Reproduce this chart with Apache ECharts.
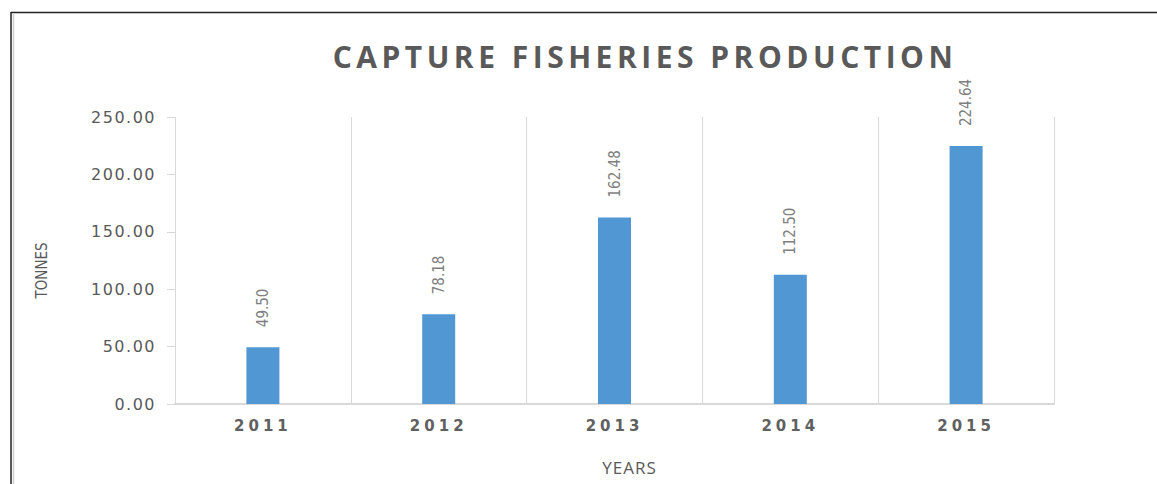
<!DOCTYPE html>
<html>
<head>
<meta charset="utf-8">
<script src="https://cdn.jsdelivr.net/npm/echarts@6/dist/echarts.min.js"></script>
<style>
html,body{margin:0;padding:0;background:#fff;}
#chart{width:1157px;height:484px;}
</style>
</head>
<body>
<div id="chart"></div>
<script>
const titleText = 'CAPTURE FISHERIES PRODUCTION';
const categories = ['2011', '2012', '2013', '2014', '2015'];
const production = [49.50, 78.18, 162.48, 112.50, 224.64];
const yAxisName = 'TONNES';
const xAxisName = 'YEARS';

const chart = echarts.init(document.getElementById('chart'), null, {renderer: 'svg'});
const narrow = '"Liberation Sans Narrow", "DejaVu Sans Condensed", sans-serif';
chart.setOption({
  animation: false,
  backgroundColor: '#fff',
  title: {
    text: titleText,
    left: 640,
    top: 36,
    textAlign: 'center',
    textStyle: {fontFamily: '"Open Sans", sans-serif', fontWeight: 'bold', fontSize: 30, color: '#595959'}
  },
  grid: {left: 175, right: 103, top: 117, bottom: 80},
  xAxis: {
    type: 'category',
    data: categories,
    name: xAxisName,
    nameLocation: 'middle',
    nameGap: 55,
    nameTextStyle: {fontFamily: '"Open Sans", sans-serif', fontSize: 17, color: '#595959', padding: [0, 0, 0, 30]},
    axisLine: {lineStyle: {color: '#d9d9d9', width: 2}},
    axisTick: {show: false},
    splitLine: {show: true, lineStyle: {color: '#d9d9d9', width: 1}},
    axisLabel: {fontFamily: '"DejaVu Sans", sans-serif', fontWeight: 'bold', fontSize: 15, color: '#606060', margin: 14}
  },
  yAxis: {
    type: 'value',
    min: 0,
    max: 250,
    interval: 50,
    name: yAxisName,
    nameLocation: 'middle',
    nameGap: 126,
    nameTextStyle: {fontFamily: narrow, fontSize: 15, color: '#595959', padding: [0, 20, 0, 0]},
    axisLine: {show: false},
    axisTick: {show: true, length: 8, lineStyle: {color: '#d9d9d9'}},
    splitLine: {show: false},
    axisLabel: {
      fontFamily: '"DejaVu Sans", sans-serif', fontSize: 16, color: '#595959', margin: 19,
      formatter: v => v.toFixed(2)
    }
  },
  series: [{
    type: 'bar',
    data: production,
    barWidth: 33,
    itemStyle: {color: '#5097d3'},
    label: {
      show: true,
      position: 'top',
      distance: 20,
      rotate: 90,
      align: 'left',
      verticalAlign: 'middle',
      fontFamily: narrow,
      fontSize: 15,
      color: '#7f7f7f',
      formatter: p => p.value.toFixed(2)
    }
  }],
  graphic: [
    {type: 'line', silent: true, shape: {x1: 11, y1: 12.5, x2: 1157, y2: 12.5}, style: {stroke: '#222', lineWidth: 1.5}},
    {type: 'line', silent: true, shape: {x1: 11, y1: 12, x2: 11, y2: 484}, style: {stroke: '#222', lineWidth: 1.5}},
    {type: 'line', silent: true, shape: {x1: 13.5, y1: 13, x2: 13.5, y2: 484}, style: {stroke: '#cfcfcf', lineWidth: 1.5}}
  ]
});

function applySpacing() {
  const texts = document.querySelectorAll('#chart svg text');
  texts.forEach(t => {
    const s = t.textContent;
    if (s === titleText) t.setAttribute('letter-spacing', '4.5');
    else if (categories.includes(s)) t.setAttribute('letter-spacing', '4');
    else if (/^\d+\.00$/.test(s) && t.getAttribute('text-anchor') === 'end') t.setAttribute('letter-spacing', '1.5');
    else if (s === xAxisName) t.setAttribute('letter-spacing', '1');
  });
}
chart.on('finished', applySpacing);
applySpacing();
setTimeout(applySpacing, 50);
setTimeout(applySpacing, 300);
</script>
</body>
</html>
